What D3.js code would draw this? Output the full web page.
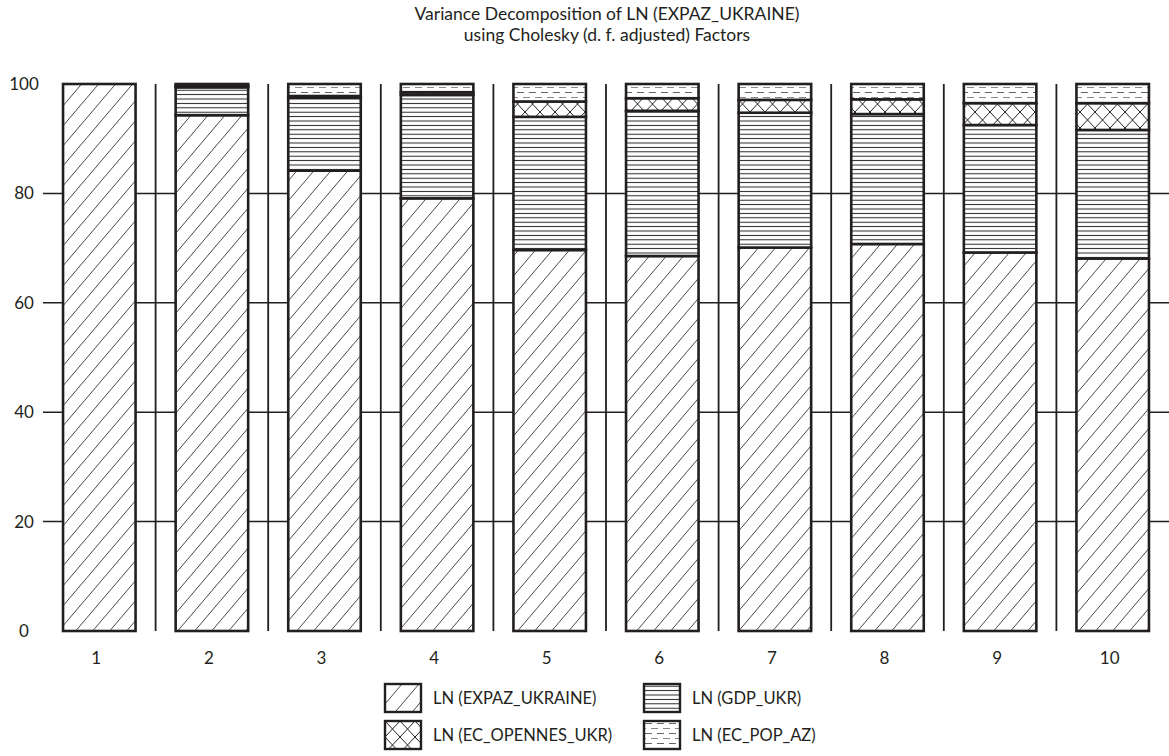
<!DOCTYPE html>
<html>
<head>
<meta charset="utf-8">
<script src="https://cdn.jsdelivr.net/npm/d3@7"></script>
<style>
  html, body { margin: 0; padding: 0; background: #fff; }
  svg { display: block; font-family: Lato, "Noto Sans", sans-serif; }
</style>
</head>
<body>
<svg id="chart" width="1169" height="756"></svg>
<script>
// Variance decomposition shares (percent) by forecast period
const periods = ["1", "2", "3", "4", "5", "6", "7", "8", "9", "10"];
const expazUkraine = [100, 94.3, 84.15, 79.1, 69.65, 68.55, 70.1, 70.75, 69.2, 68.1];
const gdpUkr       = [0, 5.1, 13.35, 18.9, 24.35, 26.55, 24.65, 23.75, 23.3, 23.5];
const ecOpennesUkr = [0, 0.3, 0.3, 0.5, 2.8, 2.3, 2.35, 2.7, 4.0, 4.9];
const ecPopAz      = [0, 0.3, 2.2, 1.5, 3.2, 2.6, 2.9, 2.8, 3.5, 3.5];
const seriesNames  = ["LN (EXPAZ_UKRAINE)", "LN (GDP_UKR)", "LN (EC_OPENNES_UKR)", "LN (EC_POP_AZ)"];
const yTicks       = [0, 20, 40, 60, 80, 100];
const titleLines   = ["Variance Decomposition of LN (EXPAZ_UKRAINE)", "using Cholesky (d. f. adjusted) Factors"];

const svg = d3.select("#chart");
const plot = { left: 43, right: 1169, top: 84, bottom: 631 };
const ink = "#231f20";

// Fill patterns, one per series
const defs = svg.append("defs");
const patDiag = defs.append("pattern").attr("id", "p0")
  .attr("patternUnits", "userSpaceOnUse").attr("width", 17).attr("height", 20);
patDiag.append("path")
  .attr("d", "M0,20L17,0M-4.25,5L4.25,-5M12.75,25L21.25,15")
  .attr("stroke", "#333").attr("stroke-width", 0.9).attr("fill", "none");

const patHoriz = defs.append("pattern").attr("id", "p1")
  .attr("patternUnits", "userSpaceOnUse").attr("width", 10).attr("height", 4.4);
patHoriz.append("line").attr("x1", 0).attr("x2", 10).attr("y1", 2.2).attr("y2", 2.2)
  .attr("stroke", "#222").attr("stroke-width", 1);

const patCross = defs.append("pattern").attr("id", "p2")
  .attr("patternUnits", "userSpaceOnUse").attr("width", 15).attr("height", 16);
patCross.append("path").attr("d", "M0,0L15,16M15,0L0,16")
  .attr("stroke", "#222").attr("stroke-width", 1).attr("fill", "none");

const patDash = defs.append("pattern").attr("id", "p3")
  .attr("patternUnits", "userSpaceOnUse").attr("width", 12).attr("height", 10);
patDash.append("line").attr("x1", 1).attr("x2", 8).attr("y1", 2.5).attr("y2", 2.5)
  .attr("stroke", "#666").attr("stroke-width", 1);
patDash.append("path").attr("d", "M7,7.5H12M0,7.5H2")
  .attr("stroke", "#888").attr("stroke-width", 1);

const patternIds = ["p0", "p1", "p2", "p3"];

// Scales
const x = d3.scaleBand().domain(periods).range([plot.left, plot.right]).padding(0);
const y = d3.scaleLinear().domain([0, 100]).range([plot.bottom, plot.top]);
const barInset = x.bandwidth() * 0.178;
const barW = x.bandwidth() - 2 * barInset;

// Title
svg.append("g").selectAll("text").data(titleLines).join("text")
  .attr("x", 607).attr("y", (d, i) => 20 + i * 21)
  .attr("text-anchor", "middle").attr("font-size", 17.5).attr("fill", ink)
  .text(d => d);

// Horizontal grid lines
svg.append("g").selectAll("line").data(yTicks.filter(t => t > 0 && t < 100)).join("line")
  .attr("x1", plot.left).attr("x2", plot.right)
  .attr("y1", d => y(d)).attr("y2", d => y(d))
  .attr("stroke", ink).attr("stroke-width", 1.5);

// Vertical separators between periods
svg.append("g").selectAll("line").data(periods.slice(1)).join("line")
  .attr("x1", d => x(d)).attr("x2", d => x(d))
  .attr("y1", plot.top).attr("y2", plot.bottom)
  .attr("stroke", ink).attr("stroke-width", 1.8);

// Y axis labels
svg.append("g").selectAll("text").data(yTicks).join("text")
  .attr("x", 24).attr("y", d => y(d)).attr("dy", "0.35em")
  .attr("text-anchor", "middle").attr("font-size", 17).attr("fill", ink)
  .text(d => d);

// X axis labels
svg.append("g").selectAll("text").data(periods).join("text")
  .attr("x", d => x(d) + x.bandwidth() / 2 - 3).attr("y", 664)
  .attr("text-anchor", "middle").attr("font-size", 17).attr("fill", ink)
  .text(d => d);

// Stacked bars
const rows = periods.map((p, i) => ({
  period: p, s0: expazUkraine[i], s1: gdpUkr[i], s2: ecOpennesUkr[i], s3: ecPopAz[i]
}));
const keys = ["s0", "s1", "s2", "s3"];
const stacked = d3.stack().keys(keys)(rows);

const layers = svg.append("g").selectAll("g").data(stacked).join("g");
layers.each(function (layer, li) {
  const g = d3.select(this);
  const segs = layer.filter(d => d[1] - d[0] > 0);
  g.selectAll("rect.bg").data(segs).join("rect").attr("class", "bg")
    .attr("x", d => x(d.data.period) + barInset).attr("width", barW)
    .attr("y", d => y(d[1])).attr("height", d => y(d[0]) - y(d[1]))
    .attr("fill", "#fff");
  g.selectAll("rect.fg").data(segs).join("rect").attr("class", "fg")
    .attr("x", d => x(d.data.period) + barInset).attr("width", barW)
    .attr("y", d => y(d[1])).attr("height", d => y(d[0]) - y(d[1]))
    .attr("fill", `url(#${patternIds[li]})`)
    .attr("stroke", ink).attr("stroke-width", 2.6);
});

// Legend
const legendItems = seriesNames.map((name, i) => ({
  name, pat: patternIds[i],
  col: i === 0 || i === 2 ? 0 : 1,
  row: i < 2 ? 0 : 1
}));
const legendX = [385, 644], legendY = [684, 721];
const lg = svg.append("g").selectAll("g").data(legendItems).join("g")
  .attr("transform", d => `translate(${legendX[d.col]},${legendY[d.row]})`);
lg.append("rect").attr("width", 36).attr("height", 28).attr("fill", "#fff");
lg.append("rect").attr("width", 36).attr("height", 28)
  .attr("fill", d => `url(#${d.pat})`).attr("stroke", ink).attr("stroke-width", 2.4);
lg.append("text").attr("x", 48).attr("y", 14).attr("dy", "0.35em")
  .attr("font-size", 16.5).attr("fill", ink).text(d => d.name);
</script>
</body>
</html>
